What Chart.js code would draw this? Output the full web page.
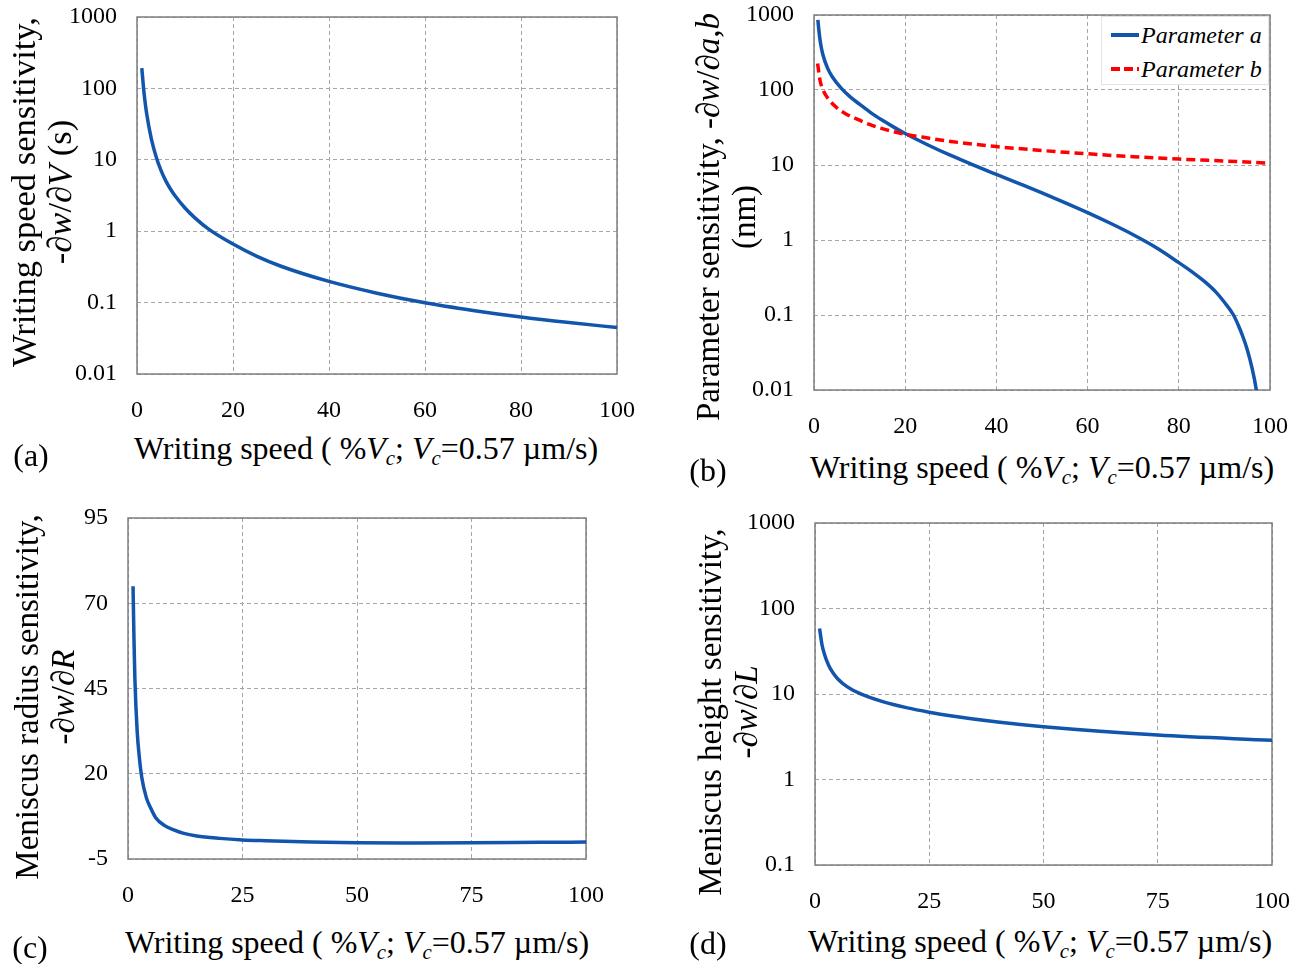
<!DOCTYPE html>
<html>
<head>
<meta charset="utf-8">
<script src="https://cdn.jsdelivr.net/npm/chart.js@4.4.1/dist/chart.umd.min.js"></script>
<style>
  body { margin: 0; background: #fff; font-family: 'Liberation Serif', 'Times New Roman', serif; color: #000; }
  #page { position: relative; width: 1297px; height: 964px; overflow: hidden; }
  canvas { position: absolute; }
  .xt { position: absolute; font-size: 32px; white-space: nowrap; transform: translate(-50%, -50%); }
  .yt { position: absolute; font-size: 33px; line-height: 36px; white-space: nowrap; text-align: center; transform: translate(-50%, -50%) rotate(-90deg); }
  .tag { position: absolute; font-size: 32px; transform: translate(-50%, -50%); }
  sub { font-size: 65%; vertical-align: -0.3em; line-height: 0; }
  #legend { position: absolute; left: 1101px; top: 16px; width: 168px; height: 69px; background: #fff; border: 1px solid #e4e4e4; box-sizing: border-box; }
  .li { position: absolute; left: 39px; font-size: 24px; font-style: italic; white-space: nowrap; transform: translateY(-50%); }
  .sw { position: absolute; left: 9px; width: 28px; height: 4px; transform: translateY(-50%); }
</style>
</head>
<body>
<div id="page">
  <canvas id="chartA"></canvas>
  <canvas id="chartB"></canvas>
  <canvas id="chartC"></canvas>
  <canvas id="chartD"></canvas>

  <div class="yt" style="left:41px; top:192px; font-size:34.5px;">Writing speed sensitivity,<br>-∂<i>w</i>/∂<i>V</i> (s)</div>
  <div class="yt" style="left:726px; top:217px;">Parameter sensitivity, -∂<i>w</i>/∂<i>a</i>,<i>b</i><br>(nm)</div>
  <div class="yt" style="left:45px; top:697px;">Meniscus radius sensitivity,<br>-∂<i>w</i>/∂<i>R</i></div>
  <div class="yt" style="left:728px; top:712px;">Meniscus height sensitivity,<br>-∂<i>w</i>/∂<i>L</i></div>

  <div class="xt" style="left:366px; top:448px;">Writing speed ( %<i>V<sub>c</sub></i>; <i>V<sub>c</sub></i>=0.57 µm/s)</div>
  <div class="xt" style="left:1042px; top:467px;">Writing speed ( %<i>V<sub>c</sub></i>; <i>V<sub>c</sub></i>=0.57 µm/s)</div>
  <div class="xt" style="left:357px; top:942px;">Writing speed ( %<i>V<sub>c</sub></i>; <i>V<sub>c</sub></i>=0.57 µm/s)</div>
  <div class="xt" style="left:1040px; top:941px;">Writing speed ( %<i>V<sub>c</sub></i>; <i>V<sub>c</sub></i>=0.57 µm/s)</div>

  <div class="tag" style="left:31px; top:455px;">(a)</div>
  <div class="tag" style="left:708px; top:470px;">(b)</div>
  <div class="tag" style="left:30px; top:947px;">(c)</div>
  <div class="tag" style="left:708px; top:943px;">(d)</div>

  <div id="legend">
    <div class="sw" style="top:18px; background:#1155ad;"></div>
    <div class="li" style="top:18px;">Parameter a</div>
    <div class="sw" style="top:52px; background:repeating-linear-gradient(to right, #ff0000 0 9px, transparent 9px 13px);"></div>
    <div class="li" style="top:52px;">Parameter b</div>
  </div>
</div>

<script>
// (a) writing speed sensitivity
const speedA = [1, 1.5, 2, 3, 4, 5, 6, 7, 8, 10, 12, 15, 20, 25, 30, 40, 50, 60, 70, 80, 90, 100];
const sensV = [192, 82, 44.8, 19.5, 10.97, 7.1, 5.07, 3.87, 3.08, 2.11, 1.55, 1.06, 0.66, 0.444, 0.323, 0.198, 0.1355, 0.0993, 0.0776, 0.0627, 0.0525, 0.0448];

// (b) parameter sensitivity
const speedBa = [0.85, 1, 1.3, 1.6, 2, 3, 4, 6, 8, 10, 12.5, 15, 17.5, 20, 25, 30, 35, 40, 45, 50, 55, 60, 65, 70, 75, 80, 82, 84, 86, 88, 90, 92, 93, 94, 95, 96, 97, 97.5];
const sensParamA = [860, 686, 478, 369, 289, 194, 150, 105, 80.4, 64.6, 49.5, 39.4, 32, 26.3, 18.5, 13.4, 9.95, 7.48, 5.65, 4.25, 3.16, 2.32, 1.67, 1.175, 0.794, 0.5, 0.412, 0.335, 0.268, 0.2065, 0.148, 0.1, 0.0741, 0.0525, 0.0347, 0.0204, 0.01, 0.0056];
const speedBb = [0.8, 1.3, 2, 3, 5, 7, 9, 12, 15, 20, 25, 30, 40, 50, 60, 70, 80, 90, 100];
const sensParamB = [225, 136, 100, 78, 58, 48, 42, 35, 30.5, 25.7, 22.9, 20.6, 17.6, 15.6, 14.1, 12.9, 12.0, 11.3, 10.6];

// (c) meniscus radius sensitivity
const speedC = [1.1, 1.3, 1.5, 2, 2.5, 3, 4, 5, 6, 8, 10, 12, 15, 20, 25, 30, 40, 50, 60, 75, 90, 100];
const sensR = [75, 59.8, 48, 32.5, 24.5, 19, 13.0, 9.8, 7.2, 4.8, 3.55, 2.6, 1.75, 1.05, 0.6, 0.35, -0.05, -0.25, -0.3, -0.25, -0.12, -0.05];

// (d) meniscus height sensitivity
const speedD = [1, 1.5, 2, 3, 4, 5, 7, 10, 15, 20, 25, 30, 40, 50, 75, 100];
const sensL = [58.5, 38.5, 30, 21.5, 17.5, 15.0, 12.2, 10.03, 8.09, 6.93, 6.13, 5.54, 4.7, 4.14, 3.31, 2.87];

// tick labels
const xTicks20 = [0, 20, 40, 60, 80, 100];
const xTicks25 = [0, 25, 50, 75, 100];
const logTicks4 = [0.01, 0.1, 1, 10, 100, 1000];
const logTicks3 = [0.1, 1, 10, 100, 1000];
const linTicksC = [-5, 20, 45, 70, 95];

const BLUE = '#1155ad';
const RED = '#ff0000';

const pts = (xs, ys) => xs.map((x, i) => ({ x, y: ys[i] }));

const line = (xs, ys, color, dash) => ({
  data: pts(xs, ys),
  showLine: true,
  borderColor: color,
  borderWidth: 3.5,
  borderDash: dash || [],
  pointRadius: 0,
  cubicInterpolationMode: 'monotone',
});

// plot frame
const frame = {
  id: 'frame',
  beforeDatasetsDraw(chart) {
    const { ctx, chartArea: a } = chart;
    ctx.save();
    ctx.strokeStyle = '#7f7f7f';
    ctx.lineWidth = 1.5;
    ctx.strokeRect(a.left, a.top, a.right - a.left, a.bottom - a.top);
    ctx.restore();
  },
};

function makePanel(id, box, xTicks, yTicks, yType, datasets) {
  const padL = 90, padT = 15, padR = 30, padB = 50;
  const cv = document.getElementById(id);
  cv.width = box.r - box.l + padL + padR;
  cv.height = box.b - box.t + padT + padB;
  cv.style.left = box.l - padL + 'px';
  cv.style.top = box.t - padT + 'px';

  const tickFont = { family: "'Liberation Serif', 'Times New Roman', serif", size: 24 };
  const grid = { color: '#a6a6a6', lineWidth: 1, drawTicks: false };
  const border = { display: false, dash: [4, 3] };

  return new Chart(cv, {
    type: 'scatter',
    data: { datasets },
    options: {
      responsive: false,
      animation: false,
      layout: { padding: { left: 0, top: padT, right: padR, bottom: 0 } },
      plugins: { legend: { display: false }, tooltip: { enabled: false } },
      scales: {
        x: {
          type: 'linear',
          min: xTicks[0],
          max: xTicks[xTicks.length - 1],
          afterBuildTicks: (s) => { s.ticks = xTicks.map((v) => ({ value: v })); },
          afterFit: (s) => { s.height = padB; s.paddingLeft = 0; s.paddingRight = 0; },
          grid,
          border,
          ticks: { font: tickFont, color: '#000', padding: 22, maxRotation: 0, autoSkip: false },
        },
        y: {
          type: yType,
          min: yTicks[0],
          max: yTicks[yTicks.length - 1],
          afterBuildTicks: (s) => { s.ticks = yTicks.map((v) => ({ value: v })); },
          afterFit: (s) => { s.width = padL; s.paddingTop = 0; s.paddingBottom = 0; },
          grid,
          border,
          ticks: { font: tickFont, color: '#000', padding: 20, autoSkip: false, callback: (v) => String(v) },
        },
      },
    },
    plugins: [frame],
  });
}

makePanel('chartA', { l: 137, t: 17, r: 617, b: 374 }, xTicks20, logTicks4, 'logarithmic',
  [line(speedA, sensV, BLUE)]);

makePanel('chartB', { l: 814, t: 15, r: 1270, b: 390 }, xTicks20, logTicks4, 'logarithmic',
  [line(speedBb, sensParamB, RED, [9, 5]), line(speedBa, sensParamA, BLUE)]);

makePanel('chartC', { l: 128, t: 518, r: 586, b: 859 }, xTicks25, linTicksC, 'linear',
  [line(speedC, sensR, BLUE)]);

makePanel('chartD', { l: 815, t: 523, r: 1272, b: 865 }, xTicks25, logTicks3, 'logarithmic',
  [line(speedD, sensL, BLUE)]);
</script>
</body>
</html>
